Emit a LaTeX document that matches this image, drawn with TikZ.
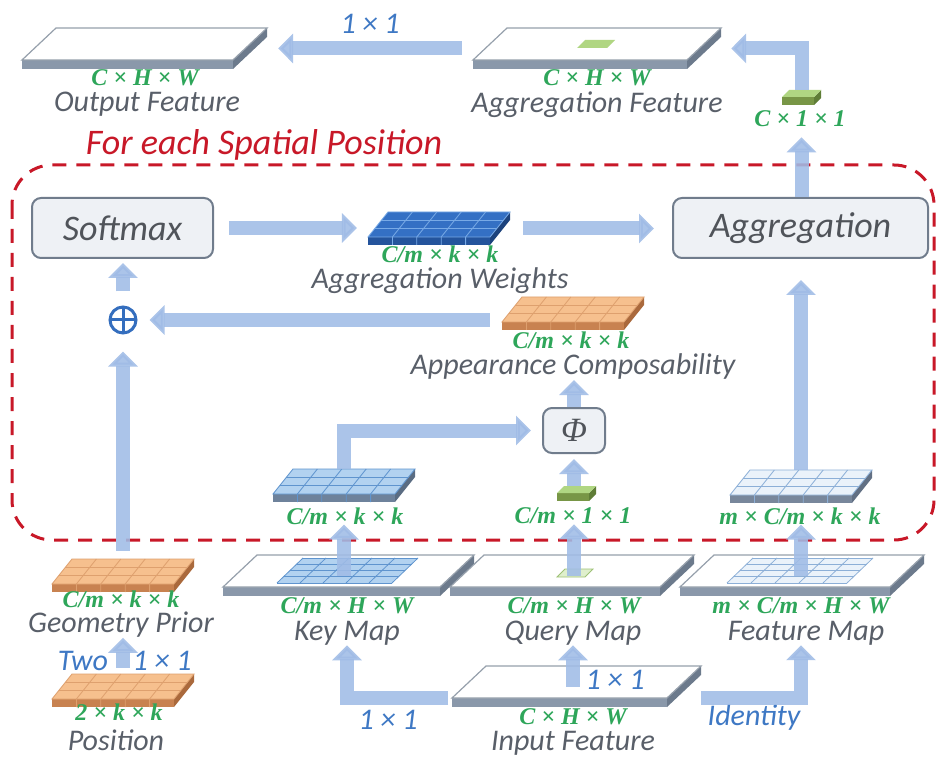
\documentclass[tikz,border=0pt]{standalone}
\usepackage{fontspec}
\setmainfont{Carlito}
\newfontfamily\dimfont{Liberation Serif}
\usetikzlibrary{arrows.meta,calc,fit}

\newlength{\du}
\setlength{\du}{1pt}

% colours
\definecolor{flowcolor}{RGB}{160,188,230}
\definecolor{namecolor}{RGB}{89,95,105}
\definecolor{dimcolor}{RGB}{46,166,90}
\definecolor{opcolor}{RGB}{62,120,196}
\definecolor{spatialcolor}{RGB}{200,24,40}
\definecolor{boxline}{RGB}{112,124,140}
\definecolor{boxfill}{RGB}{238,241,245}
\definecolor{boxtext}{RGB}{80,84,90}
\definecolor{plusblue}{RGB}{52,110,190}
\definecolor{slabline}{RGB}{150,160,172}
\definecolor{slabfront}{RGB}{138,152,170}
\definecolor{slabside}{RGB}{108,122,140}
\definecolor{weighttop}{RGB}{52,112,196}
\definecolor{weightline}{RGB}{120,170,230}
\definecolor{weightfront}{RGB}{36,84,156}
\definecolor{weightside}{RGB}{28,66,124}
\definecolor{warmtop}{RGB}{246,192,142}
\definecolor{warmline}{RGB}{222,160,110}
\definecolor{warmfront}{RGB}{200,130,80}
\definecolor{warmside}{RGB}{170,105,60}
\definecolor{keytop}{RGB}{178,210,240}
\definecolor{keyline}{RGB}{95,148,206}
\definecolor{keyfront}{RGB}{110,130,155}
\definecolor{keyside}{RGB}{90,108,130}
\definecolor{valuetop}{RGB}{234,242,250}
\definecolor{valueline}{RGB}{140,175,215}
\definecolor{valuefront}{RGB}{120,135,155}
\definecolor{valueside}{RGB}{98,112,132}
\definecolor{vectop}{RGB}{176,214,130}
\definecolor{vecfront}{RGB}{120,150,70}
\definecolor{vecside}{RGB}{95,125,55}

\tikzset{
  flow/.style={draw=flowcolor, opacity=0.88, line width=14\du, line join=miter,
    -{Triangle[length=15pt,width=29pt]}},
  opbox/.style={draw=boxline, fill=boxfill, line width=2\du, rounded corners=9\du,
    text=boxtext, font=\itshape\fontsize{36}{36}\selectfont},
  plusnode/.style={circle, draw=plusblue, line width=3\du, minimum size=26\du, inner sep=0pt,
    path picture={\draw[plusblue, line width=3\du]
      (path picture bounding box.north) -- (path picture bounding box.south)
      (path picture bounding box.west) -- (path picture bounding box.east);}},
  dimlabel/.style={text=dimcolor, inner sep=0pt, font=\dimfont\bfseries\itshape\fontsize{24}{24}\selectfont},
  namelabel/.style={text=namecolor, inner sep=0pt, font=\itshape\fontsize{30}{30}\selectfont},
  oplabel/.style={text=opcolor, inner sep=0pt, font=\itshape\fontsize{30}{30}\selectfont},
  titlelabel/.style={text=spatialcolor, inner sep=0pt, font=\itshape\fontsize{36}{36}\selectfont},
  spatialbox/.style={draw=spatialcolor, line width=3\du, dash pattern=on 14pt off 10pt,
    rounded corners=40\du},
  slab top/.style={fill=white, draw=slabline, line width=1.2\du},
  slab front/.style={fill=slabfront},
  slab side/.style={fill=slabside},
  weight top/.style={fill=weighttop}, weight line/.style={draw=weightline, line width=0.8\du},
  weight front/.style={fill=weightfront}, weight side/.style={fill=weightside},
  warm top/.style={fill=warmtop}, warm line/.style={draw=warmline, line width=0.8\du},
  warm front/.style={fill=warmfront}, warm side/.style={fill=warmside},
  key top/.style={fill=keytop}, key line/.style={draw=keyline, line width=0.8\du},
  key front/.style={fill=keyfront}, key side/.style={fill=keyside},
  value top/.style={fill=valuetop}, value line/.style={draw=valueline, line width=0.8\du},
  value front/.style={fill=valuefront}, value side/.style={fill=valueside},
  vec top/.style={fill=vectop}, vec front/.style={fill=vecfront}, vec side/.style={fill=vecside},
  query patch/.style={fill=vectop!40, draw=vectop!90!black, line width=0.8\du}
}

% big feature slab: front corner x, y, width, name
\newcommand{\featslab}[4]{%
  \path (#1,#2) coordinate (#4-bl) ++(#3,0) coordinate (#4-br)
    ++(34,-32) coordinate (#4-tr) ++(-#3,0) coordinate (#4-tl);
  \path (#4-bl) ++(0,9) coordinate (#4-fb) (#4-br) ++(0,9) coordinate (#4-bb)
    (#4-tr) ++(0,9) coordinate (#4-sb);
  \fill[slab side] (#4-br) -- (#4-tr) -- (#4-sb) -- (#4-bb) -- cycle;
  \fill[slab front] (#4-bl) -- (#4-br) -- (#4-bb) -- (#4-fb) -- cycle;
  \filldraw[slab top] (#4-bl) -- (#4-br) -- (#4-tr) -- (#4-tl) -- cycle;
  \node[fit=(#4-tl)(#4-tr)(#4-fb)(#4-sb), inner sep=0pt] (#4) {};
}

% grid patch on a feature slab: front corner x, y, width, colour set
\newcommand{\featgrid}[4]{%
  \fill[#4 top] (#1,#2) -- ++(#3,0) -- ++(26,-25) -- ++(-#3,0) -- cycle;
  \foreach \gi in {0,...,5} \draw[#4 line] ({#1+\gi*#3/5},#2) -- ++(26,-25);
  \foreach \gj in {0,...,4} \draw[#4 line] ({#1+\gj*26/4},{#2-\gj*25/4}) -- ++(#3,0);
}

% small k x k slab: front corner x, y, colour set, name
\newcommand{\kernslab}[4]{%
  \path (#1,#2) coordinate (#4-bl) ++(122,0) coordinate (#4-br)
    ++(20,-25) coordinate (#4-tr) ++(-122,0) coordinate (#4-tl);
  \path (#4-bl) ++(0,8) coordinate (#4-fb) (#4-br) ++(0,8) coordinate (#4-bb)
    (#4-tr) ++(0,8) coordinate (#4-sb);
  \fill[#3 side] (#4-br) -- (#4-tr) -- (#4-sb) -- (#4-bb) -- cycle;
  \fill[#3 front] (#4-bl) -- (#4-br) -- (#4-bb) -- (#4-fb) -- cycle;
  \fill[#3 top] (#4-bl) -- (#4-br) -- (#4-tr) -- (#4-tl) -- cycle;
  \foreach \gi in {1,...,4}
    \draw[#3 line] ({#1+\gi*24.4},#2) -- ++(20,-25) ({#1+\gi*24.4},#2) -- ++(0,8);
  \foreach \gj in {1,2}
    \draw[#3 line] ({#1+\gj*20/3},{#2-\gj*25/3}) -- ++(122,0);
  \draw[#3 line] (#4-bl) -- (#4-br) -- (#4-tr) -- (#4-tl) -- cycle;
  \node[fit=(#4-tl)(#4-tr)(#4-fb)(#4-sb), inner sep=0pt] (#4) {};
}

% 1 x 1 vector: front corner x, y, name
\newcommand{\vecbox}[3]{%
  \path (#1,#2) coordinate (#3-bl) ++(32,0) coordinate (#3-br)
    ++(7,-7) coordinate (#3-tr) ++(-32,0) coordinate (#3-tl);
  \path (#3-bl) ++(0,8) coordinate (#3-fb) (#3-br) ++(0,8) coordinate (#3-bb)
    (#3-tr) ++(0,8) coordinate (#3-sb);
  \fill[vec side] (#3-br) -- (#3-tr) -- (#3-sb) -- (#3-bb) -- cycle;
  \fill[vec front] (#3-bl) -- (#3-br) -- (#3-bb) -- (#3-fb) -- cycle;
  \fill[vec top] (#3-bl) -- (#3-br) -- (#3-tr) -- (#3-tl) -- cycle;
  \node[fit=(#3-tl)(#3-tr)(#3-fb)(#3-sb), inner sep=0pt] (#3) {};
}

\begin{document}
\begin{tikzpicture}[x=1\du,y=-1\du]
\path[use as bounding box, fill=white] (0,0) rectangle (940,759);
% for each spatial position
\draw[spatialbox] (12,165) rectangle (934,540);
\node[titlelabel] (spatial) at (264,145) {For each Spatial Position};

% feature maps
\featslab{22}{60}{211}{outf}
\featslab{473}{60}{214}{aggf}
\fill[vec top] (577,48) -- ++(30,0) -- ++(8,-8) -- ++(-30,0) -- cycle;
\featslab{223}{587}{217}{key}
\featgrid{277}{583}{115}{key}
\featslab{450}{587}{210}{query}
\filldraw[query patch] (557,577) -- ++(28,0) -- ++(8,-8) -- ++(-28,0) -- cycle;
\featslab{680}{587}{210}{feat}
\featgrid{727}{583}{120}{value}
\featslab{452}{698}{215}{inp}

% kernels
\kernslab{368}{237}{weight}{aw}
\kernslab{502}{322}{warm}{ac}
\kernslab{273}{494}{key}{ksm}
\kernslab{730}{495}{value}{fsm}
\kernslab{52}{584}{warm}{gp}
\kernslab{52}{699}{warm}{pos}
\vecbox{782}{97}{cvec}
\vecbox{557}{493}{qvec}

% operators
\node[opbox, minimum width=181\du, minimum height=60\du] (soft) at (122.5,228) {Softmax};
\node[opbox, minimum width=255\du, minimum height=60\du] (agg) at (800.5,228) {Aggregation};
\node[opbox, minimum width=62\du, minimum height=45\du,
  font=\dimfont\itshape\fontsize{34}{34}\selectfont] (phi) at (574,430.5) {Φ};
\node[plusnode] (plus) at (123,320) {};

% labels
\node[dimlabel] (outfdim) at (145,78) {C × H × W};
\node[namelabel] (outfname) at (147,104) {Output Feature};
\node[oplabel] (convout) at (370,24) {1 × 1};
\node[dimlabel] (aggfdim) at (597,78) {C × H × W};
\node[namelabel] (aggfname) at (597,105) {Aggregation Feature};
\node[dimlabel] (cvecdim) at (800,119) {C × 1 × 1};
\node[dimlabel] (awdim) at (440,254) {C/m × k × k};
\node[namelabel] (awname) at (440,281) {Aggregation Weights};
\node[dimlabel] (acdim) at (571,340) {C/m × k × k};
\node[namelabel] (acname) at (573,367) {Appearance Composability};
\node[dimlabel] (ksmdim) at (345,516) {C/m × k × k};
\node[dimlabel] (qvecdim) at (573,516) {C/m × 1 × 1};
\node[dimlabel] (fsmdim) at (800,516) {m × C/m × k × k};
\node[dimlabel] (gpdim) at (121,599) {C/m × k × k};
\node[namelabel] (gpname) at (121,625) {Geometry Prior};
\node[oplabel] (convtwo) at (83,661) {Two};
\node[oplabel] (convgp) at (162,661) {1 × 1};
\node[dimlabel] (posdim) at (119,712) {2 × k × k};
\node[namelabel] (posname) at (116,740) {Position};
\node[dimlabel] (keydim) at (347,606) {C/m × H × W};
\node[namelabel] (keyname) at (347,633) {Key Map};
\node[dimlabel] (querydim) at (574,606) {C/m × H × W};
\node[namelabel] (queryname) at (573,633) {Query Map};
\node[dimlabel] (featdim) at (801,606) {m × C/m × H × W};
\node[namelabel] (featname) at (806,633) {Feature Map};
\node[dimlabel] (inpdim) at (573,717) {C × H × W};
\node[namelabel] (inpname) at (573,743) {Input Feature};
\node[oplabel] (convquery) at (615,680) {1 × 1};
\node[oplabel] (identity) at (754,717) {Identity};
\node[oplabel] (convkey) at (388,720) {1 × 1};

% arrows
\draw[flow, shorten >=11pt] ($(aggf.west)+(-11,0)$) -- (outf.east);
\draw[flow, shorten >=10pt] (agg.north -| cvec) -- (cvecdim.south -| cvec);
\draw[flow, shorten >=10pt] (cvec.north) |- (aggf.east);
\draw[flow, shorten <=15pt, shorten >=11pt] (soft.east) -- (soft.east -| aw.west);
\draw[flow, shorten <=13pt, shorten >=18pt] (aw.east) -- (aw.east -| agg.west);
\draw[flow, shorten <=14pt, shorten >=4pt] (plus.north) -- (plus.north |- soft.south);
\draw[flow, shorten <=12pt, shorten >=12pt] (plus -| ac.west) -- (plus.east);
\draw[flow, shorten <=8pt, shorten >=17pt] (gp) -- (plus.south);
\draw[flow, shorten <=6pt] (pos) -- (pos |- gpname.south);
\draw[flow] (phi.north) -- (phi.north |- acname.south);
\draw[flow, shorten >=5pt] (qvec.north -| phi) -- (phi.south);
\draw[flow, shorten >=11pt] (ksm) |- (phi.west);
\draw[flow] (ksm |- key) -- (ksm |- ksmdim.south);
\draw[flow] (phi |- query) -- (phi |- qvecdim.south);
\draw[flow] (fsm |- feat) -- (fsm |- fsmdim.south);
\draw[flow, shorten >=21pt] (fsm) -- (fsm |- agg.south);
\draw[flow] ($(inp-bl)+(-4,0)$) -| (keyname.south);
\draw[flow] (queryname |- inp) -- (queryname.south);
\draw[flow] (inp.east |- inp-bl) -| (featname.south -| fsm);
\end{tikzpicture}
\end{document}
